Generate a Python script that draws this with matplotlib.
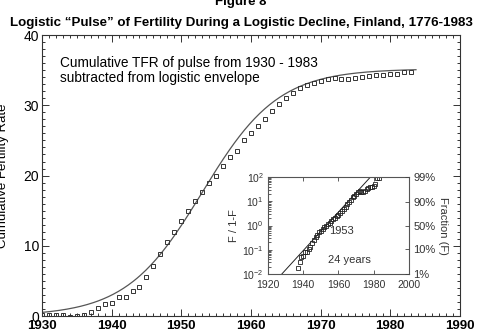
import numpy as np
import matplotlib
matplotlib.use("Agg")
import matplotlib.pyplot as plt
from matplotlib.ticker import MultipleLocator, LogLocator, NullFormatter, FixedLocator

plt.rcParams['font.family'] = ['Liberation Sans', 'DejaVu Sans']
plt.rcParams['mathtext.default'] = 'regular'

# cumulative TFR of the pulse, 1930-1983
years = np.arange(1930, 1984)
cum_tfr = [0.2, 0.2, 0.1, 0.1, -0.1, 0.0, 0.2, 0.6, 1.1, 1.7,
           1.8, 2.7, 2.7, 3.5, 4.2, 5.5, 7.1, 8.8, 10.5, 12.0,
           13.5, 14.9, 16.4, 17.6, 18.9, 20.0, 21.3, 22.6, 23.5, 25.0,
           26.0, 27.1, 28.1, 29.2, 30.2, 31.0, 31.7, 32.4, 32.9, 33.2,
           33.5, 33.8, 33.9, 33.8, 33.8, 33.9, 34.1, 34.2, 34.3, 34.3,
           34.4, 34.5, 34.8, 34.8]

# logistic fit: saturation, midpoint, 10%-90% width
sat = 35.2
t_mid = 1953.0
dt = 24.0

pct_labels = ['99%', '90%', '50%', '10%', '1%']
pct_vals = [0.99, 0.90, 0.50, 0.10, 0.01]

def logistic(t):
    return sat / (1.0 + np.exp(-np.log(81.0) / dt * (t - t_mid)))

fig = plt.figure(figsize=(4.82, 3.36), dpi=100)

fig.text(0.5, 0.993, 'Figure 8', ha='center', va='center', fontsize=9.5, fontweight='bold')
fig.text(0.5, 0.932, 'Logistic \u201cPulse\u201d of Fertility During a Logistic Decline, Finland, 1776-1983',
         ha='center', va='center', fontsize=9.6, fontweight='bold')

ax = fig.add_axes([0.0871, 0.0595, 0.867, 0.836])
tt = np.linspace(1930, 1983.7, 300)
ax.plot(tt, logistic(tt), color='#555555', lw=0.9)
ax.plot(years, cum_tfr, ls='none', marker='s', ms=3.4, mfc='none', mec='#333333', mew=0.7)

ax.set_xlim(1930, 1990)
ax.set_ylim(0, 40)
ax.xaxis.set_major_locator(MultipleLocator(10))
ax.xaxis.set_minor_locator(MultipleLocator(1))
ax.yaxis.set_major_locator(MultipleLocator(10))
ax.yaxis.set_minor_locator(MultipleLocator(1))
ax.tick_params(which='both', direction='in', top=True, right=True, width=0.7, color='#333333')
ax.tick_params(which='major', length=5)
ax.tick_params(which='minor', length=2.5)
ax.tick_params(axis='x', labelsize=9.5, pad=3)
ax.tick_params(axis='y', labelsize=10, pad=2)
for lab in ax.get_xticklabels():
    lab.set_fontweight('bold')
for s in ax.spines.values():
    s.set_linewidth(0.8)
    s.set_color('#333333')
ax.set_ylabel('Cumulative Fertility Rate', fontsize=9.5)
ax.yaxis.set_label_coords(-0.078, 0.5)

ax.text(0.043, 0.925, 'Cumulative TFR of pulse from 1930 - 1983\nsubtracted from logistic envelope',
        transform=ax.transAxes, ha='left', va='top', fontsize=9.8, linespacing=1.1)

# inset: Fisher-Pry transform F/(1-F)
frac = np.array(cum_tfr) / sat
ok = frac > 0
fp = frac[ok] / (1 - frac[ok])

ins = fig.add_axes([0.556, 0.1845, 0.2925, 0.2887])
ins.set_yscale('log')
tl = np.linspace(1920, 2000, 200)
fl = logistic(tl) / sat
ins.plot(tl, fl / (1 - fl), color='#222222', lw=0.7)
ins.plot(years[ok], fp, ls='none', marker='s', ms=2.2, mfc='none', mec='#222222', mew=0.6)
ins.set_xlim(1920, 2000)
ins.set_ylim(1e-2, 1e2)
ins.xaxis.set_major_locator(MultipleLocator(20))
ins.yaxis.set_major_locator(LogLocator(base=10, numticks=10))
ins.yaxis.set_minor_locator(LogLocator(base=10, subs=np.arange(2, 10), numticks=10))
ins.yaxis.set_minor_formatter(NullFormatter())
ins.set_yticks([1e-2, 1e-1, 1, 10, 100])
ins.set_yticklabels(['$10^{-2}$', '$10^{-1}$', '$10^{0}$', '$10^{1}$', '$10^{2}$'])
ins.tick_params(which='both', direction='in', top=True, width=0.6, color='#444444',
                labelsize=7.5, labelcolor='#333333')
ins.tick_params(which='major', length=3)
ins.tick_params(which='minor', length=1.8)
ins.tick_params(axis='x', pad=4)
ins.tick_params(axis='y', pad=3)
for s in ins.spines.values():
    s.set_linewidth(0.8)
    s.set_color('#555555')
ins.set_ylabel('F / 1-F', fontsize=8, color='#333333', labelpad=2)

ins.text(0.52, 0.44, '1953', transform=ins.transAxes, ha='center', va='center',
         fontsize=8, color='#333333')
ins.text(0.58, 0.14, '24 years', transform=ins.transAxes, ha='center', va='center',
         fontsize=8, color='#333333')

ins2 = ins.twinx()
ins2.set_yscale('log')
ins2.set_ylim(1e-2, 1e2)
ins2.yaxis.set_major_locator(FixedLocator([p / (1 - p) for p in pct_vals]))
ins2.yaxis.set_minor_locator(FixedLocator([]))
ins2.set_yticklabels(pct_labels)
ins2.tick_params(direction='in', length=3, width=0.6, color='#444444',
                 labelsize=8, labelcolor='#333333', pad=3)
ins2.set_ylabel('Fraction (F)', fontsize=8, color='#333333', rotation=270, labelpad=9)
for s in ins2.spines.values():
    s.set_visible(False)

fig.savefig('out.png', dpi=100)
